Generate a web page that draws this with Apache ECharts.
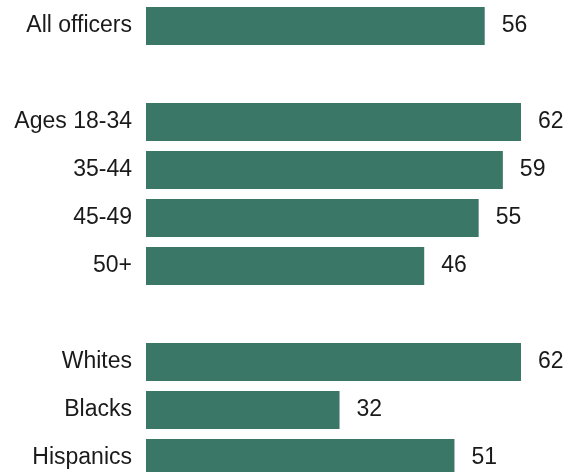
<!DOCTYPE html>
<html>
<head>
<meta charset="utf-8">
<script src="https://cdn.jsdelivr.net/npm/echarts@6/dist/echarts.min.js"></script>
<style>
  html, body { margin: 0; padding: 0; background: #fff; overflow: hidden; }
  /* the last bar runs past the bottom edge, so the canvas is taller than the window */
  #chart { width: 570px; height: 482px; }
</style>
</head>
<body>
<div id="chart"></div>
<script>
// rows with empty strings are the spacer rows between groups
const categories = ['All officers', '', 'Ages 18-34', '35-44', '45-49', '50+', '', 'Whites', 'Blacks', 'Hispanics'];
const values = [56, null, 62, 59, 55, 46, null, 62, 32, 51];

const chart = echarts.init(document.getElementById('chart'));

chart.setOption({
    animation: false,
    grid: {
        left: 146,
        top: 2,
        width: 375,
        bottom: 0
    },
    xAxis: {
        type: 'value',
        min: 0,
        max: 62,
        show: false
    },
    yAxis: {
        type: 'category',
        data: categories,
        inverse: true,
        axisLine: { show: false },
        axisTick: { show: false },
        splitLine: { show: false },
        axisLabel: {
            margin: 14,
            padding: [6, 0, 0, 0],
            fontFamily: 'Liberation Sans, Arial, sans-serif',
            fontSize: 23,
            color: '#1a1a1a'
        }
    },
    series: [{
        type: 'bar',
        data: values,
        barWidth: 38,
        itemStyle: { color: '#3a7767' },
        label: {
            show: true,
            position: 'right',
            distance: 17,
            padding: [6, 0, 0, 0],
            fontFamily: 'Liberation Sans, Arial, sans-serif',
            fontSize: 23,
            color: '#1a1a1a'
        }
    }]
});
</script>
</body>
</html>
